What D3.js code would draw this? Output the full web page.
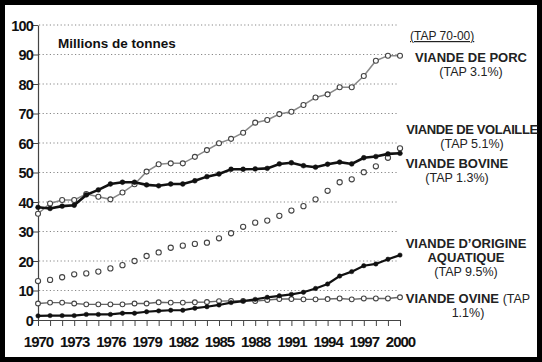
<!DOCTYPE html>
<html><head><meta charset="utf-8">
<script src="https://cdn.jsdelivr.net/npm/d3@7"></script>
<style>body{margin:0;background:#fff}svg{display:block;font-family:"Liberation Sans",Arial,Helvetica,sans-serif}</style>
</head><body><svg id="c" width="542" height="362"></svg>
<script>
const years = d3.range(1970, 2001);
const porc = [36,39.5,40.7,40.7,42.7,41.8,40.9,43.2,46,50.3,52.8,53.1,53.1,55.3,57.6,59.9,61.4,63.5,66.9,67.8,69.8,70.6,72.9,75.4,76.5,78.9,78.9,82.7,87.9,89.6,89.6];
const volaille = [13.2,13.6,14.5,15.5,15.8,16.4,17.5,18.6,20,21.7,22.9,24.5,25.2,25.8,26.2,27.7,29.4,31.6,33,33.7,35.3,37.1,38.6,40.9,43.8,46.7,47.7,50.1,52.1,55,58.2];
const bovine = [38.2,37.8,38.6,38.9,42.4,44.1,46.1,46.7,46.7,45.8,45.5,46.1,46.1,47.2,48.6,49.5,51.1,51.1,51.2,51.4,52.9,53.3,52.3,51.8,52.8,53.5,52.9,55,55.4,56.3,56.5];
const aquatique = [1.4,1.5,1.5,1.5,1.9,1.9,1.9,2.3,2.3,2.8,3.1,3.3,3.3,4.0,4.5,5.1,5.9,6.4,7.0,7.7,8.2,8.7,9.4,10.7,12.2,14.9,16.4,18.4,19.0,20.6,22.0];
const ovine = [5.6,5.9,5.9,5.6,5.3,5.3,5.3,5.3,5.6,5.6,6.0,5.9,5.9,6.0,6.1,6.4,6.5,6.5,6.4,6.8,7.1,7.1,7.0,7.0,7.1,7.3,7.0,7.3,7.3,7.3,7.7];
const yTicks = [0,10,20,30,40,50,60,70,80,90,100];
const xTickLabels = [1970,1973,1976,1979,1982,1985,1988,1991,1994,1997,2000];
const labels = [
  {lines:[["VIANDE DE PORC",true]], sub:["(TAP 3.1%)"], cx:471, y:62, ls:0},
  {lines:[["VIANDE DE VOLAILLE",true]], sub:["(TAP 5.1%)"], cx:472, y:134, ls:-0.4},
  {lines:[["VIANDE BOVINE",true]], sub:["(TAP 1.3%)"], cx:457, y:168, ls:0},
  {lines:[["VIANDE D\u2019ORIGINE",true],["AQUATIQUE",true]], sub:["(TAP 9.5%)"], cx:466, y:248, ls:0},
  {lines:[["VIANDE OVINE ",true,"(TAP"]], sub:["1.1%)"], cx:468, y:303, ls:0}
];

const svg = d3.select("#c");
svg.append("rect").attr("x",2.5).attr("y",2.5).attr("width",537).attr("height",357).attr("fill","#fff").attr("stroke","#000").attr("stroke-width",5);

const x = d3.scaleLinear().domain([1970,2000]).range([38,400]);
const y = d3.scaleLinear().domain([0,100]).range([320,25]);

svg.append("g").selectAll("line").data(yTicks.filter(d=>d>0)).join("line")
  .attr("x1",39).attr("x2",398).attr("y1",d=>y(d)).attr("y2",d=>y(d))
  .attr("stroke","#888").attr("stroke-width",1.1).attr("stroke-dasharray","1.2,2.4");

const ya = svg.append("g").attr("transform","translate(38,0)")
  .call(d3.axisLeft(y).tickValues(yTicks).tickSize(5).tickSizeOuter(0));
ya.select(".domain").attr("stroke","#444").attr("stroke-width",1.2);
ya.selectAll(".tick line").attr("stroke","#444");
ya.selectAll("text").attr("font-size",14.5).attr("font-weight","bold").attr("fill","#111")
  .attr("letter-spacing",-0.8).attr("x",-5).attr("dy","0.36em")
  .style("font-family","'Liberation Sans',Arial,sans-serif");

const xa = svg.append("g").attr("transform","translate(0,320)")
  .call(d3.axisBottom(x).tickValues(years).tickSize(6).tickSizeOuter(0).tickFormat(d=>xTickLabels.includes(d)?d:""));
xa.select(".domain").attr("stroke","#444").attr("stroke-width",1.2);
xa.selectAll(".tick line").attr("stroke","#444");
xa.selectAll("text").attr("font-size",15).attr("font-weight","bold").attr("fill","#111")
  .attr("letter-spacing",-1).attr("y",16).attr("dy","0.71em")
  .style("font-family","'Liberation Sans',Arial,sans-serif");

const line = d3.line().x((d,i)=>x(years[i])).y(d=>y(d));
function series(vals, o){
  const g = svg.append("g");
  if (o.line) g.append("path").datum(vals).attr("d",line).attr("fill","none")
    .attr("stroke",o.line).attr("stroke-width",o.lw);
  g.selectAll("circle").data(vals).join("circle")
    .attr("cx",(d,i)=>x(years[i])).attr("cy",d=>y(d)).attr("r",o.r)
    .attr("fill",o.fill).attr("stroke",o.stroke).attr("stroke-width",o.sw);
}
series(volaille,{line:null,r:2.6,fill:"#fff",stroke:"#444",sw:1.1});
series(ovine,{line:"#666",lw:1.4,r:2.4,fill:"#fff",stroke:"#444",sw:1.1});
series(aquatique,{line:"#111",lw:2.2,r:2.2,fill:"#111",stroke:"#111",sw:0.5});
series(porc,{line:"#888",lw:1.5,r:2.5,fill:"#fff",stroke:"#444",sw:1.1});
series(bovine,{line:"#111",lw:2.6,r:2.4,fill:"#111",stroke:"#111",sw:0.5});

svg.append("text").attr("x",58).attr("y",48).attr("font-size",13.5).attr("font-weight","bold")
  .attr("fill","#111").text("Millions de tonnes");

svg.append("text").attr("x",410).attr("y",40).attr("font-size",12).attr("fill","#222")
  .attr("text-decoration","underline").text("(TAP 70-00)");

const lg = svg.append("g").attr("font-size",13).attr("fill","#222");
labels.forEach(l=>{
  let yy = l.y;
  l.lines.forEach(ln=>{
    const t = lg.append("text").attr("x",l.cx).attr("y",yy).attr("text-anchor","middle").attr("letter-spacing",l.ls);
    t.append("tspan").attr("font-weight","bold").text(ln[0]);
    if (ln[2]) t.append("tspan").attr("font-size",12.5).text(ln[2]);
    yy += 14;
  });
  l.sub.forEach(s=>{
    lg.append("text").attr("x",l.cx).attr("y",yy).attr("text-anchor","middle").attr("font-size",12.5).text(s);
    yy += 14;
  });
});
</script></body></html>
